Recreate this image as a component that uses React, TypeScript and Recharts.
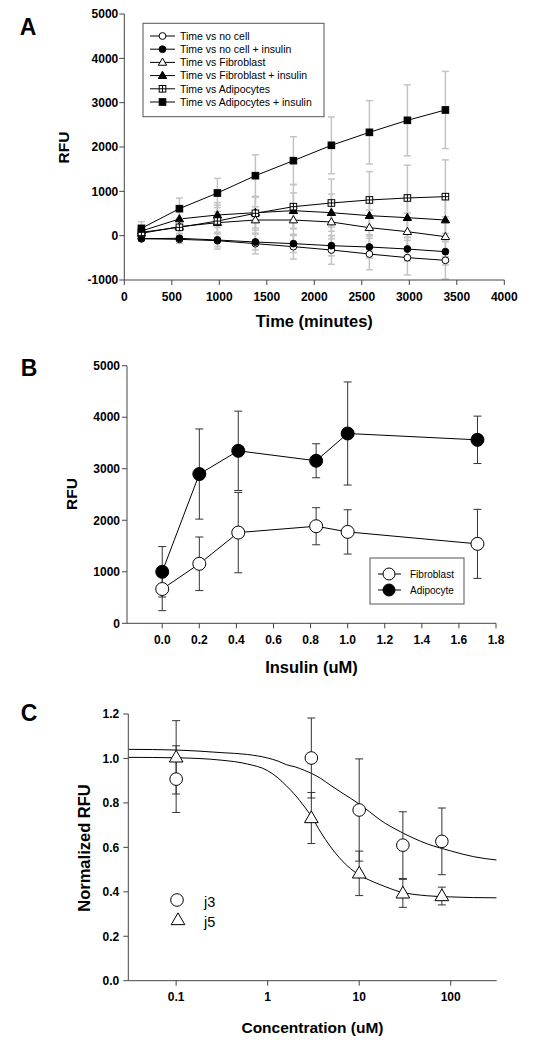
import React from "react";
import { ComposedChart, ErrorBar, Line, XAxis, YAxis } from "recharts";

const FONT = '"Liberation Sans", Arial, Helvetica, sans-serif';

// Panel A - time course
const times = [180, 580, 980, 1380, 1780, 2180, 2580, 2980, 3380];
const noCell = [-68, -83, -113, -180, -248, -323, -414, -496, -556];
const noCellErr = [40, 90, 190, 230, 280, 323, 355, 390, 420];
const noCellIns = [-68, -60, -98, -143, -180, -226, -256, -301, -361];
const noCellInsErr = [40, 70, 150, 180, 200, 230, 250, 270, 300];
const fibro = [53, 203, 293, 353, 353, 308, 180, 90, -23];
const fibroErr = [60, 150, 250, 300, 350, 380, 400, 420, 450];
const fibroIns = [105, 376, 466, 519, 564, 519, 451, 406, 353];
const fibroInsErr = [60, 200, 280, 350, 400, 420, 430, 450, 480];
const adipo = [75, 188, 330, 504, 654, 737, 805, 850, 880];
const adipoErr = [80, 200, 360, 380, 500, 540, 640, 740, 830];
const adipoIns = [165, 609, 962, 1353, 1692, 2038, 2331, 2602, 2835];
const adipoInsErr = [150, 240, 330, 470, 540, 640, 715, 800, 870];
const timeTicks = [0, 500, 1000, 1500, 2000, 2500, 3000, 3500, 4000];
const rfuTicksA = [-1000, 0, 1000, 2000, 3000, 4000, 5000];

// Panel B - insulin dose
const insulinDoses = [0, 0.2, 0.41, 0.83, 1.0, 1.7];
const fibroblast = [665, 1155, 1761, 1884, 1774, 1542];
const fibroblastErr = [420, 520, 780, 360, 430, 670];
const adipocyte = [1000, 2897, 3348, 3155, 3684, 3561];
const adipocyteErr = [490, 875, 770, 330, 1000, 460];
const insulinTicks = [0, 0.2, 0.4, 0.6, 0.8, 1.0, 1.2, 1.4, 1.6, 1.8];
const rfuTicksB = [0, 1000, 2000, 3000, 4000, 5000];

// Panel C - concentration response
const concentrations = [0.1, 3, 10, 30, 80];
const j3 = [0.907, 1.002, 0.768, 0.61, 0.627];
const j3Err = [0.15, 0.18, 0.23, 0.15, 0.15];
const j5 = [1.005, 0.732, 0.483, 0.393, 0.381];
const j5Err = [0.165, 0.115, 0.1, 0.063, 0.04];
// fitted curves
const fitConc = [0.03, 0.1, 0.316, 0.6, 1, 1.3, 1.6, 2, 2.5, 3, 3.8, 4.8, 6.5, 10, 13, 17, 28, 56, 100, 178, 318];
const j3Fit = [1.041, 1.038, 1.026, 1.018, 1.002, 0.988, 0.972, 0.962, 0.947, 0.933, 0.91, 0.881, 0.845, 0.795, 0.76, 0.723, 0.671, 0.615, 0.584, 0.558, 0.543];
const j5Fit = [1.005, 1.003, 0.992, 0.975, 0.945, 0.912, 0.877, 0.835, 0.785, 0.74, 0.668, 0.606, 0.54, 0.476, 0.452, 0.432, 0.4, 0.382, 0.377, 0.374, 0.373];
const concTicks = [0.1, 1, 10, 100];
const normTicks = [0, 0.2, 0.4, 0.6, 0.8, 1.0, 1.2];

type Kind = "circle" | "triangle" | "square" | "squareCross";

function Marker({ kind, cx, cy, size, filled }: { kind: Kind; cx: number; cy: number; size: number; filled: boolean }) {
  const fill = filled ? "#000" : "#fff";
  if (kind === "circle") {
    return <circle cx={cx} cy={cy} r={size} fill={fill} stroke="#000" strokeWidth={1} />;
  }
  if (kind === "triangle") {
    const pts = `${cx},${cy - size * 1.15} ${cx - size * 1.1},${cy + size * 0.75} ${cx + size * 1.1},${cy + size * 0.75}`;
    return <polygon points={pts} fill={fill} stroke="#000" strokeWidth={1} />;
  }
  if (kind === "square") {
    return <rect x={cx - size} y={cy - size} width={size * 2} height={size * 2} fill={fill} stroke="#000" strokeWidth={1} />;
  }
  return (
    <g>
      <rect x={cx - size} y={cy - size} width={size * 2} height={size * 2} fill="#fff" stroke="#000" strokeWidth={1} />
      <line x1={cx - size} y1={cy} x2={cx + size} y2={cy} stroke="#000" strokeWidth={1} />
      <line x1={cx} y1={cy - size} x2={cx} y2={cy + size} stroke="#000" strokeWidth={1} />
    </g>
  );
}

const dot = (kind: Kind, size: number, filled: boolean) => (p: any) => {
  const k = `${kind}-${filled ? "f" : "o"}-${p.index}`;
  if (p.cx == null || p.cy == null) return <g key={k} />;
  return (
    <g key={k}>
      <Marker kind={kind} cx={p.cx} cy={p.cy} size={size} filled={filled} />
    </g>
  );
};

const timeRows = times.map((t, i) => ({
  t,
  noCell: noCell[i],
  noCellErr: noCellErr[i],
  noCellIns: noCellIns[i],
  noCellInsErr: noCellInsErr[i],
  fibro: fibro[i],
  fibroErr: fibroErr[i],
  fibroIns: fibroIns[i],
  fibroInsErr: fibroInsErr[i],
  adipo: adipo[i],
  adipoErr: adipoErr[i],
  adipoIns: adipoIns[i],
  adipoInsErr: adipoInsErr[i],
}));

const doseRows = insulinDoses.map((x, i) => ({
  x,
  fibroblast: fibroblast[i],
  fibroblastErr: fibroblastErr[i],
  adipocyte: adipocyte[i],
  adipocyteErr: adipocyteErr[i],
}));

const pointRows = concentrations.map((x, i) => ({ x, j3: j3[i], j3Err: j3Err[i], j5: j5[i], j5Err: j5Err[i] }));
const fitRows = fitConc.map((x, i) => ({ x, j3Fit: j3Fit[i], j5Fit: j5Fit[i] }));

const tickStyle = { fill: "#000", fontSize: 12, fontWeight: "bold" };
const AXIS = "#444";

const seriesA: { key: string; kind: Kind; filled: boolean; label: string }[] = [
  { key: "noCell", kind: "circle", filled: false, label: "Time vs no cell" },
  { key: "noCellIns", kind: "circle", filled: true, label: "Time vs no cell + insulin" },
  { key: "fibro", kind: "triangle", filled: false, label: "Time vs Fibroblast" },
  { key: "fibroIns", kind: "triangle", filled: true, label: "Time vs Fibroblast + insulin" },
  { key: "adipo", kind: "squareCross", filled: false, label: "Time vs Adipocytes" },
  { key: "adipoIns", kind: "square", filled: true, label: "Time vs Adipocytes + insulin" },
];

const markerSize = (kind: Kind) => (kind === "triangle" ? 3.8 : kind === "circle" ? 3.4 : 3.3);

export default function App() {
  return (
    <div style={{ position: "absolute", left: 0, top: 0, width: 538, height: 1050, background: "#fff", fontFamily: FONT }}>
      {/* A */}
      <div style={{ position: "absolute", left: 0, top: 0 }}>
        <ComposedChart width={538} height={340} data={timeRows} margin={{ top: 14, right: 33.7, bottom: 30, left: 64.3 }}>
          <XAxis
            dataKey="t"
            type="number"
            domain={[0, 4000]}
            ticks={timeTicks}
            interval={0}
            allowDataOverflow
            height={30}
            tickSize={5}
            tickMargin={7}
            stroke={AXIS}
            tick={tickStyle}
            label={{ value: "Time (minutes)", position: "bottom", offset: 5, fontSize: 16.5, fontWeight: "bold", fill: "#000" }}
          />
          <YAxis
            type="number"
            domain={[-1000, 5000]}
            ticks={rfuTicksA}
            interval={0}
            allowDataOverflow
            width={60}
            tickSize={5}
            tickMargin={1}
            stroke={AXIS}
            tick={tickStyle}
          />
          {seriesA.map((s) => (
            <Line
              key={s.key}
              dataKey={s.key}
              stroke="#000"
              strokeWidth={1}
              isAnimationActive={false}
              dot={dot(s.kind, markerSize(s.kind), s.filled)}
              activeDot={false}
            >
              <ErrorBar dataKey={`${s.key}Err`} direction="y" width={3.5} stroke="#c4c4c4" strokeWidth={1.5} />
            </Line>
          ))}
        </ComposedChart>
      </div>

      {/* B */}
      <div style={{ position: "absolute", left: 0, top: 350 }}>
        <ComposedChart width={538} height={340} data={doseRows} margin={{ top: 15.7, right: 42, bottom: 36.7, left: 67 }}>
          <XAxis
            dataKey="x"
            type="number"
            domain={[-0.19, 1.8]}
            ticks={insulinTicks}
            interval={0}
            allowDataOverflow
            height={30}
            tickSize={5}
            tickMargin={7}
            stroke={AXIS}
            tick={tickStyle}
            tickFormatter={(v: number) => v.toFixed(1)}
            label={{ value: "Insulin (uM)", position: "bottom", offset: 8, fontSize: 16.5, fontWeight: "bold", fill: "#000" }}
          />
          <YAxis
            type="number"
            domain={[0, 5000]}
            ticks={rfuTicksB}
            interval={0}
            allowDataOverflow
            width={60}
            tickSize={5}
            tickMargin={2}
            stroke={AXIS}
            tick={tickStyle}
          />
          <Line dataKey="fibroblast" stroke="#000" strokeWidth={1} isAnimationActive={false} dot={dot("circle", 6.5, false)} activeDot={false}>
            <ErrorBar dataKey="fibroblastErr" direction="y" width={4} stroke="#333" strokeWidth={1} />
          </Line>
          <Line dataKey="adipocyte" stroke="#000" strokeWidth={1} isAnimationActive={false} dot={dot("circle", 6.5, true)} activeDot={false}>
            <ErrorBar dataKey="adipocyteErr" direction="y" width={4} stroke="#333" strokeWidth={1} />
          </Line>
        </ComposedChart>
      </div>

      {/* C */}
      <div style={{ position: "absolute", left: 0, top: 700 }}>
        <ComposedChart width={538} height={350} margin={{ top: 14, right: 41.3, bottom: 39.3, left: 68.3 }}>
          <XAxis
            dataKey="x"
            type="number"
            scale="log"
            domain={[0.03, 318]}
            ticks={concTicks}
            interval={0}
            allowDataOverflow
            height={30}
            tickSize={5}
            tickMargin={7}
            stroke={AXIS}
            tick={tickStyle}
            tickFormatter={(v: number) => String(v)}
            label={{ value: "Concentration (uM)", position: "bottom", offset: 11, fontSize: 15.5, fontWeight: "bold", fill: "#000" }}
          />
          <YAxis
            type="number"
            domain={[0, 1.2]}
            ticks={normTicks}
            interval={0}
            allowDataOverflow
            width={60}
            tickSize={5}
            tickMargin={4}
            stroke={AXIS}
            tick={tickStyle}
            tickFormatter={(v: number) => v.toFixed(1)}
          />
          <Line data={fitRows} dataKey="j3Fit" type="monotone" stroke="#000" strokeWidth={1} dot={false} activeDot={false} isAnimationActive={false} />
          <Line data={fitRows} dataKey="j5Fit" type="monotone" stroke="#000" strokeWidth={1} dot={false} activeDot={false} isAnimationActive={false} />
          <Line data={pointRows} dataKey="j3" stroke="none" isAnimationActive={false} dot={dot("circle", 6.3, false)} activeDot={false}>
            <ErrorBar dataKey="j3Err" direction="y" width={4} stroke="#333" strokeWidth={1} />
          </Line>
          <Line data={pointRows} dataKey="j5" stroke="none" isAnimationActive={false} dot={dot("triangle", 6.2, false)} activeDot={false}>
            <ErrorBar dataKey="j5Err" direction="y" width={4} stroke="#333" strokeWidth={1} />
          </Line>
        </ComposedChart>
      </div>

      {/* labels and legends */}
      <svg width={538} height={1050} style={{ position: "absolute", left: 0, top: 0, pointerEvents: "none" }}>
        <g fontWeight="bold" fontSize={23} fill="#000" textAnchor="middle">
          <text x={28} y={34.5}>A</text>
          <text x={29} y={375.5}>B</text>
          <text x={29} y={720.5}>C</text>
        </g>
        <g fontWeight="bold" fontSize={15.5} fill="#000" textAnchor="middle">
          <text transform="translate(68.8,147.5) rotate(-90)">RFU</text>
          <text transform="translate(77.3,494) rotate(-90)">RFU</text>
          <text fontSize={16.5} transform="translate(89.6,848) rotate(-90)">Normalized RFU</text>
        </g>

        <rect x={143} y={23.3} width={181} height={93.4} fill="#fff" stroke="#555" strokeWidth={1} />
        {seriesA.map((s, i) => {
          const y = 36 + i * 13.2;
          return (
            <g key={s.key}>
              <line x1={150} y1={y} x2={175} y2={y} stroke="#000" strokeWidth={1} />
              <Marker kind={s.kind} cx={162.5} cy={y} size={markerSize(s.kind)} filled={s.filled} />
              <text x={180} y={y + 3.7} fontSize={10.5} fill="#000">
                {s.label}
              </text>
            </g>
          );
        })}

        <rect x={370} y={558} width={94} height={46} fill="#fff" stroke="#555" strokeWidth={1} />
        {[
          { label: "Fibroblast", filled: false, y: 574 },
          { label: "Adipocyte", filled: true, y: 590 },
        ].map((s) => (
          <g key={s.label}>
            <line x1={378} y1={s.y} x2={401} y2={s.y} stroke="#000" strokeWidth={1} />
            <Marker kind="circle" cx={389} cy={s.y} size={6} filled={s.filled} />
            <text x={410} y={s.y + 3.6} fontSize={10} fill="#000">
              {s.label}
            </text>
          </g>
        ))}

        <Marker kind="circle" cx={177} cy={900} size={6.3} filled={false} />
        <Marker kind="triangle" cx={178} cy={920} size={6.2} filled={false} />
        <text x={204} y={907.3} fontSize={14.5} fill="#000">j3</text>
        <text x={204} y={926.7} fontSize={14.5} fill="#000">j5</text>
      </svg>
    </div>
  );
}
